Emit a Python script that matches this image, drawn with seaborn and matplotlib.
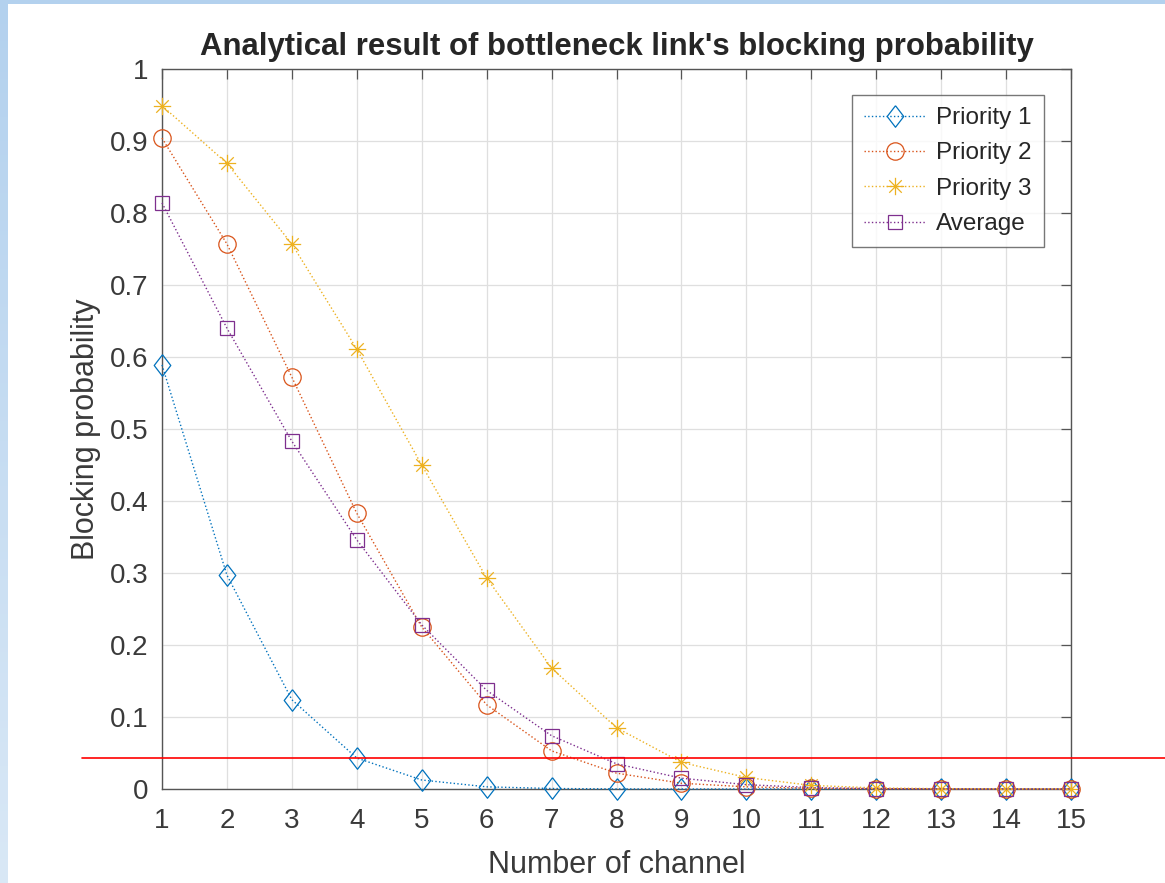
import numpy as np
import pandas as pd
import matplotlib
matplotlib.use("Agg")
import matplotlib.pyplot as plt
import matplotlib.transforms as mtransforms
from matplotlib.path import Path
from matplotlib.patches import Rectangle
from matplotlib.colors import LinearSegmentedColormap
import seaborn as sns

# ---------------- data ----------------
channels = list(range(1, 16))
priority1 = [0.589, 0.297, 0.124, 0.043, 0.0125, 0.003, 0.0007, 0.0001, 0, 0, 0, 0, 0, 0, 0]
priority2 = [0.904, 0.757, 0.572, 0.383, 0.225, 0.117, 0.053, 0.022, 0.008, 0.003, 0.001, 0.0003, 0, 0, 0]
priority3 = [0.949, 0.869, 0.757, 0.611, 0.450, 0.293, 0.168, 0.085, 0.037, 0.016, 0.005, 0.0015, 0.0004, 0.0001, 0]
average = [0.814, 0.640, 0.483, 0.346, 0.228, 0.137, 0.074, 0.035, 0.015, 0.006, 0.002, 0.0006, 0.0001, 0, 0]
series_names = ["Priority 1", "Priority 2", "Priority 3", "Average"]
threshold = 0.043
x_ticks = list(range(1, 16))
y_ticks = [0, 0.1, 0.2, 0.3, 0.4, 0.5, 0.6, 0.7, 0.8, 0.9, 1]
y_tick_labels = ["0", "0.1", "0.2", "0.3", "0.4", "0.5", "0.6", "0.7", "0.8", "0.9", "1"]
title = "Analytical result of bottleneck link's blocking probability"
xlabel = "Number of channel"
ylabel = "Blocking probability"

df = pd.DataFrame({
    "x": channels * 4,
    "y": priority1 + priority2 + priority3 + average,
    "series": sum([[n] * len(channels) for n in series_names], []),
})

# ---------------- style ----------------
sns.set_style("white")
plt.rcParams["font.family"] = ["Liberation Sans", "DejaVu Sans"]

colors = ["#0072BD", "#D95319", "#EDB120", "#7E2F8E"]

diamond = [(0, 1), (0.77, 0), (0, -1), (-0.77, 0), (0, 1)]
star = Path(
    [(-1, 0), (1, 0), (0, -1), (0, 1), (-0.72, -0.72), (0.72, 0.72), (-0.72, 0.72), (0.72, -0.72)],
    [Path.MOVETO, Path.LINETO] * 4,
)
markers = [diamond, "o", star, "s"]
msizes = [15.5, 12.5, 12.5, 9.5]

fig = plt.figure(figsize=(11.65, 8.83), dpi=100, facecolor="white")

# light-blue frame strips (left gradient + top)
grad_ax = fig.add_axes([0, 0, 8 / 1165, 1])
grad = np.linspace(0, 1, 256).reshape(-1, 1)
cmap = LinearSegmentedColormap.from_list("b", ["#b3d1ee", "#d9e8f6"])
grad_ax.imshow(grad, aspect="auto", cmap=cmap, origin="upper")
grad_ax.set_axis_off()
fig.patches.append(Rectangle((0, 1 - 4 / 883), 1, 4 / 883, transform=fig.transFigure,
                             facecolor="#b3d1ee", edgecolor="none", zorder=0))

ax = fig.add_axes([162 / 1165, 1 - 789 / 883, (1071 - 162) / 1165, (789 - 69) / 883])
ax.set_facecolor("white")

for name, c, m, ms in zip(series_names, colors, markers, msizes):
    sub = df[df["series"] == name]
    sns.lineplot(data=sub, x="x", y="y", ax=ax, color=c, marker=m, markersize=ms,
                 markerfacecolor="none", markeredgecolor=c, markeredgewidth=0.9,
                 linestyle=":", linewidth=1.0, label=name, clip_on=False, zorder=3)

ax.set_xlim(1, 15)
ax.set_ylim(0, 1)
ax.set_xticks(x_ticks)
ax.set_yticks(y_ticks)
ax.set_yticklabels(y_tick_labels)
ax.grid(True, color="#dfdfdf", linewidth=0.9)
ax.set_axisbelow(True)
for s in ax.spines.values():
    s.set_visible(True)
    s.set_color("#555555")
    s.set_linewidth(1.0)
ax.tick_params(direction="in", length=7, width=0.9, color="#555555",
               top=True, right=True, labelsize=20, labelcolor="#3a3a3a")
ax.tick_params(axis="x", pad=14)
ax.tick_params(axis="y", pad=10)

ax.set_xlabel(xlabel, fontsize=22, color="#3a3a3a", labelpad=11)
ax.set_ylabel(ylabel, fontsize=22, color="#3a3a3a", labelpad=6)
ax.set_title(title, fontsize=22.4, fontweight="bold", color="#262626", pad=10)

leg = ax.legend(loc="upper right", bbox_to_anchor=(0.970, 0.964), borderaxespad=0,
                fancybox=False, frameon=True, fontsize=17.5, handlelength=2.55,
                handletextpad=0.4, labelspacing=0.55, borderpad=0.5)
leg.get_frame().set_edgecolor("#555555")
leg.get_frame().set_linewidth(1.0)
for t in leg.get_texts():
    t.set_color("#262626")

# red reference line extending beyond the axes
trans = mtransforms.blended_transform_factory(fig.transFigure, ax.transData)
ax.plot([82 / 1165, 1.0], [threshold, threshold], transform=trans, color="#ff0000",
        linewidth=1.2, clip_on=False, zorder=5)

fig.savefig("out.png", dpi=100, facecolor="white")
